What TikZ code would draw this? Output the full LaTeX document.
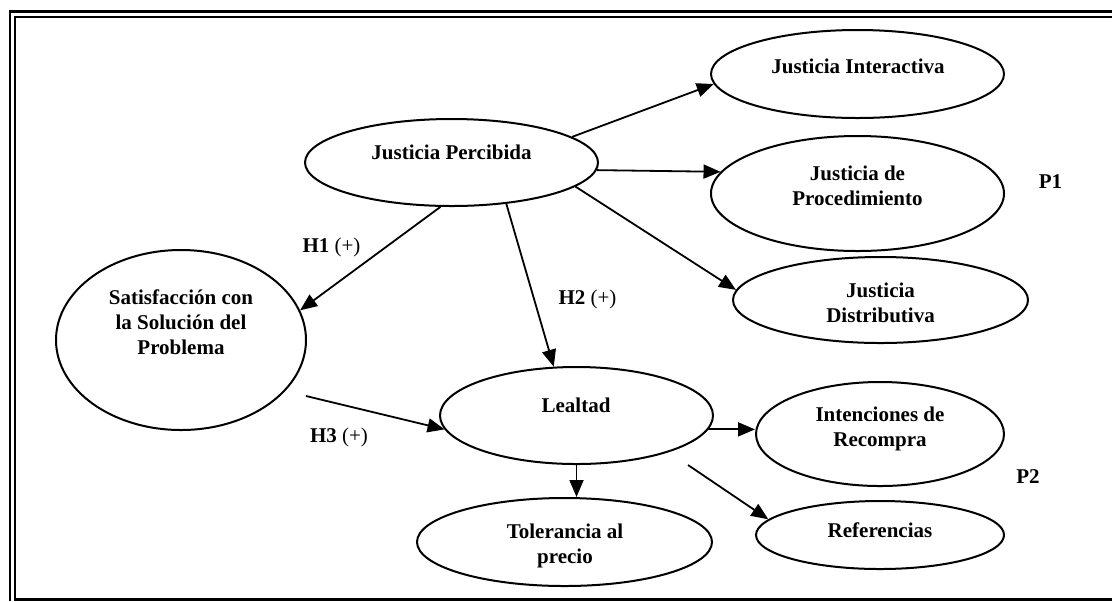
\documentclass[tikz,border=0pt]{standalone}
\usepackage{fontspec}
\setmainfont{Liberation Serif}
\usetikzlibrary{shapes.geometric, arrows.meta, calc}
\tikzset{
  varnode/.style 2 args={ellipse, draw, line width=1pt, minimum width=#1, minimum height=#2, inner sep=0pt},
  vartext/.style={font=\fontsize{10.5}{12.5}\selectfont\bfseries, align=center, inner sep=0pt},
  hyplabel/.style={font=\fontsize{10.5}{12.5}\selectfont\bfseries, inner sep=0pt},
  link/.style={line width=0.9pt, -{Triangle[length=8.5pt, width=7pt]}},
  framerule/.style={line width=1.3pt},
}
\begin{document}
\begin{tikzpicture}[x=0.5pt, y=-0.5pt]
\useasboundingbox (0,0) rectangle (1112,601);

% Frame
\draw[framerule] (1112,11.5) -- (10,11.5) -- (10,601);
\draw[framerule] (1112,17) -- (15,17) -- (15,599.5) -- (1112,599.5);

% Constructs
\node[varnode={146.5pt}{43.5pt}] (jp) at (451.5,162.5) {};
\node[varnode={146.5pt}{44pt}] (ji) at (857.5,74) {};
\node[varnode={146.5pt}{57.5pt}] (jpr) at (857.5,193.5) {};
\node[varnode={147.5pt}{43pt}] (jd) at (880.5,300) {};
\node[varnode={125pt}{90pt}] (sat) at (181,340) {};
\node[varnode={136.5pt}{48.5pt}] (le) at (576.5,415.5) {};
\node[varnode={147.5pt}{44pt}] (tol) at (564.5,542) {};
\node[varnode={124pt}{52pt}] (int) at (880,434) {};
\node[varnode={124pt}{34pt}] (ref) at (880,535) {};

% Construct names
\node[vartext] (jp-t) at (451.5,152) {Justicia Percibida};
\node[vartext] (ji-t) at (858,66.5) {Justicia Interactiva};
\node[vartext] (jpr-t) at (857.5,186) {Justicia de\\Procedimiento};
\node[vartext] (jd-t) at (880.5,303) {Justicia\\Distributiva};
\node[vartext] (sat-t) at (181,322) {Satisfacción con\\la Solución del\\Problema};
\node[vartext] (le-t) at (576,405) {Lealtad};
\node[vartext] (tol-t) at (565,546) {Tolerancia al\\precio};
\node[vartext] (int-t) at (880,429) {Intenciones de\\Recompra};
\node[vartext] (ref-t) at (880,530.5) {Referencias};

% Propositions and hypotheses
\node[hyplabel] (p1) at (1050.5,181.5) {P1};
\node[hyplabel] (p2) at (1028,477) {P2};
\node[hyplabel] (h1) at (331.5,247) {H1 \mdseries(+)};
\node[hyplabel] (h2) at (587.5,299.5) {H2 \mdseries(+)};
\node[hyplabel] (h3) at (339,437) {H3 \mdseries(+)};

% Free ends of two links
\coordinate (h3s) at (306,396);
\coordinate (lrs) at (688,465);

% Links
\draw[link] (jp.12) -- (ji.184);
\draw[link] (jp.-3) -- (jpr.171);
\draw[link] (jp.-11) -- (jd.176);
\draw[link] (jp.256) -- (sat.14);
\draw[link] (jp.-37) -- (le.115);
\draw[link] (h3s) -- (le.186);
\draw[link] (le.-6) -- (le.-6 -| int.west);
\draw[link] (lrs) -- (ref.172);
\draw[link] (le.south) -- (le.south |- tol.north);
\end{tikzpicture}
\end{document}
